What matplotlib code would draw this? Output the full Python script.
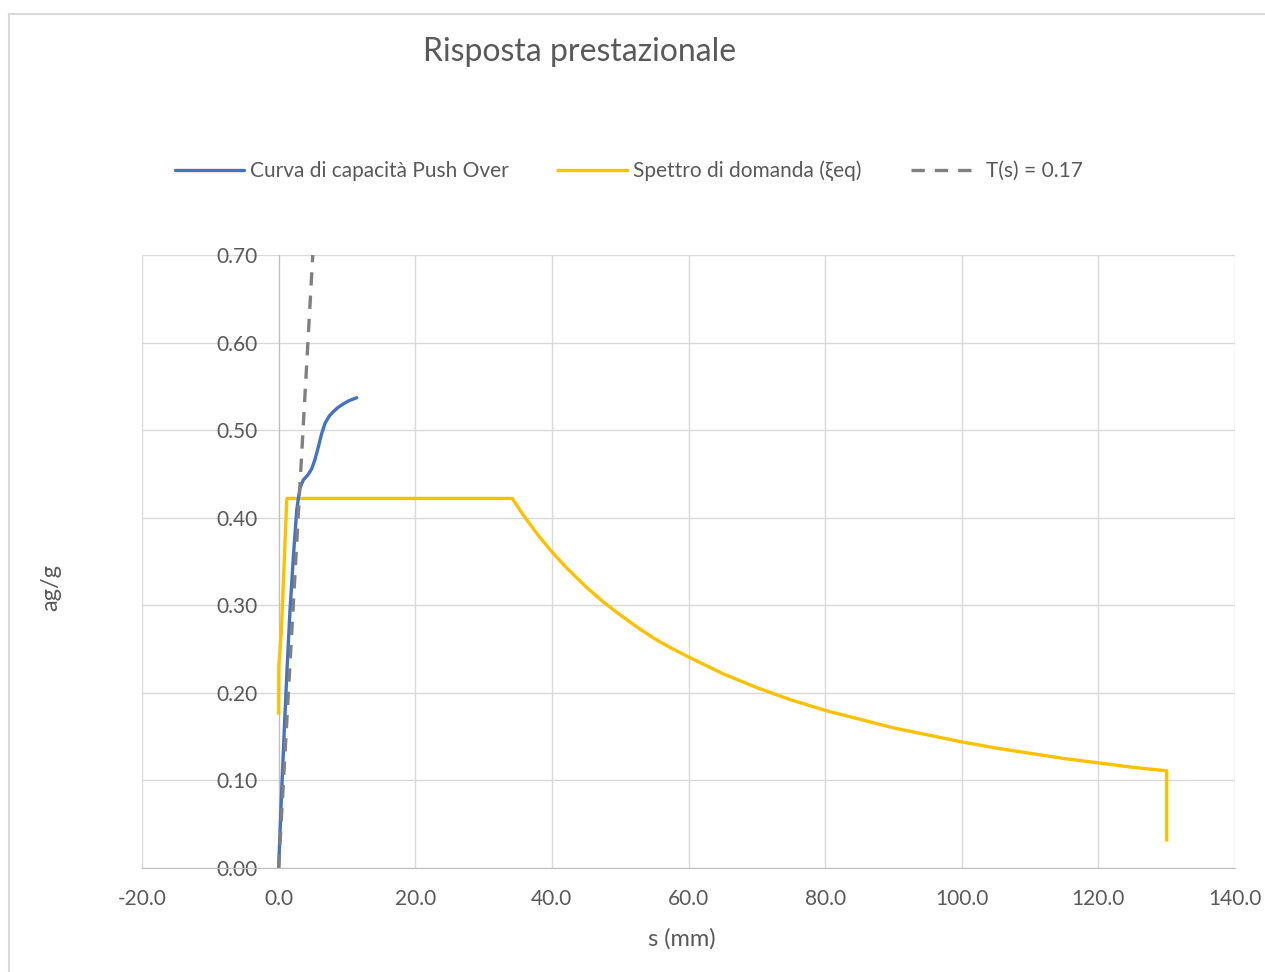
import matplotlib
matplotlib.use("Agg")
import matplotlib.pyplot as plt
from matplotlib.lines import Line2D
from matplotlib.ticker import FormatStrFormatter

plt.rcParams['font.family'] = ['Lato', 'DejaVu Sans']

# curva di capacita' push over (s in mm, ag/g)
s_push = [0.0, 0.4, 0.83, 1.25, 1.67, 2.2, 2.65, 2.89, 3.13, 3.6, 4.3, 4.85,
          5.3, 5.82, 6.3, 6.8, 7.4, 8.0, 8.7, 9.47, 10.4, 11.43]
a_push = [0.0, 0.08, 0.158, 0.23, 0.295, 0.36, 0.409, 0.422, 0.434, 0.443, 0.449, 0.456,
          0.466, 0.481, 0.496, 0.508, 0.516, 0.521, 0.526, 0.530, 0.534, 0.537]

# spettro di domanda
s_dom = [0.0, 0.03, 0.4, 1.2, 34.2, 36, 38, 40, 42, 45, 47.5, 50, 52.5, 55, 57.5, 60,
         65, 70, 75, 80, 85, 90, 95, 100, 105, 110, 115, 120, 125, 130, 130]
a_dom = [0.177, 0.23, 0.27, 0.422, 0.422, 0.401, 0.380, 0.361, 0.344, 0.321, 0.304,
         0.289, 0.275, 0.262, 0.251, 0.241, 0.222, 0.206, 0.192, 0.180, 0.170, 0.160,
         0.152, 0.144, 0.137, 0.131, 0.125, 0.120, 0.115, 0.111, 0.032]

# retta periodo T = 0.17 s
s_T = [0.0, 5.0]
a_T = [0.0, 0.70]

xticks = [-20, 0, 20, 40, 60, 80, 100, 120, 140]
yticks = [0.0, 0.1, 0.2, 0.3, 0.4, 0.5, 0.6, 0.7]

grey_txt = '#595959'

fig = plt.figure(figsize=(12.65, 9.72), dpi=100)
ax = fig.add_axes([142/1265, 1-868/972, 1093/1265, 613/972])

ax.plot(s_push, a_push, color='#4472C4', lw=2.4, label='Curva di capacità Push Over',
        solid_capstyle='round', zorder=4)
ax.plot(s_dom, a_dom, color='#FFC000', lw=2.4, label='Spettro di domanda (ξeq)', zorder=3)
ax.plot(s_T, a_T, color='#808080', lw=2.4, ls=(0, (4, 3)), label='T(s) = 0.17', zorder=5)

ax.set_xlim(-20, 140)
ax.set_ylim(0, 0.70)
ax.set_xticks(xticks)
ax.set_yticks(yticks)
ax.xaxis.set_major_formatter(FormatStrFormatter('%.1f'))
ax.yaxis.set_major_formatter(FormatStrFormatter('%.2f'))
ax.grid(True, color='#D9D9D9', lw=1.0, zorder=0)
ax.set_axisbelow(True)

for side in ['top', 'right']:
    ax.spines[side].set_visible(False)
ax.spines['left'].set_position(('data', 0))
ax.spines['left'].set_color('#BFBFBF')
ax.spines['bottom'].set_color('#BFBFBF')
ax.tick_params(axis='both', length=0, labelsize=15, labelcolor=grey_txt)
ax.tick_params(axis='x', pad=15)
ax.tick_params(axis='y', pad=15)

ax.set_xlabel('s (mm)', fontsize=17, color=grey_txt)
ax.xaxis.set_label_coords(0.494, -0.098)
ax.set_ylabel('ag/g', fontsize=17, color=grey_txt)
ax.yaxis.set_label_coords(-0.074, 0.457)

fig.text(580/1265, 1-52/972, 'Risposta prestazionale', ha='center', va='center',
         fontsize=23, color=grey_txt)

fig.legend(loc='center', bbox_to_anchor=(629/1265, 1-171/972), ncol=3, frameon=False,
           fontsize=15, handlelength=3.3, handletextpad=0.3, columnspacing=2.35,
           labelcolor=grey_txt)

# bordo del grafico
fig.add_artist(Line2D([9/1265, 1], [1-14/972, 1-14/972], transform=fig.transFigure,
                      color='#D9D9D9', lw=1.5))
fig.add_artist(Line2D([9/1265, 9/1265], [0, 1-14/972], transform=fig.transFigure,
                      color='#D9D9D9', lw=1.5))

fig.savefig('out.png', dpi=100, facecolor='white')
